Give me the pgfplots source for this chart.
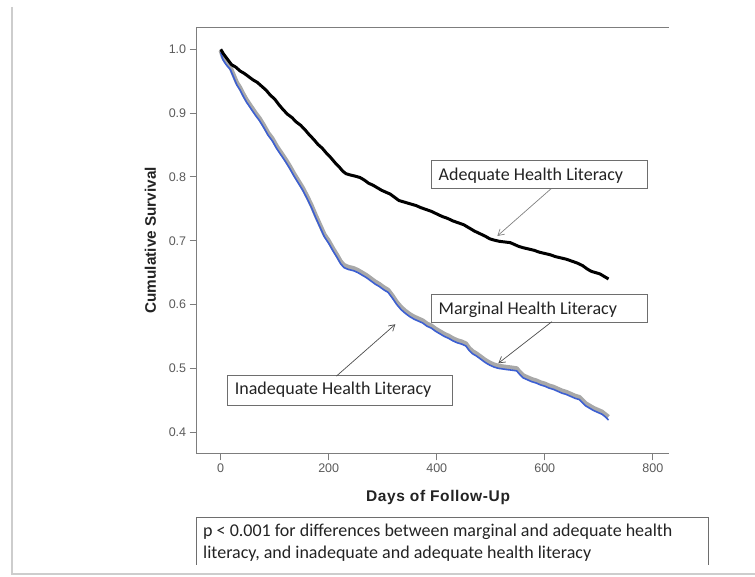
\documentclass[border=0pt]{standalone}
\usepackage{fontspec}
\setmainfont{Liberation Sans}
\newfontfamily\calibri{Carlito}
\usepackage{pgfplots}
\usepackage{pgfplotstable}
\pgfplotsset{compat=1.18}
\usetikzlibrary{arrows.meta}

\definecolor{axisgray}{RGB}{125,125,125}
\definecolor{ticktext}{RGB}{90,90,90}
\definecolor{marggray}{RGB}{168,168,168}
\definecolor{inadblue}{RGB}{60,95,210}
\definecolor{boxgray}{RGB}{110,110,110}
\definecolor{framegray}{RGB}{205,205,205}
\definecolor{txt}{RGB}{35,35,35}

% Adequate health literacy (black curve)
\pgfplotstableread{
day surv
0   1.000
5   0.993
12  0.985
20  0.976
28  0.972
36  0.966
44  0.962
52  0.957
60  0.952
68  0.948
76  0.942
84  0.936
92  0.928
100 0.922
108 0.913
116 0.905
124 0.898
132 0.893
140 0.886
148 0.881
156 0.874
164 0.866
172 0.859
180 0.851
188 0.845
196 0.837
204 0.830
212 0.822
220 0.815
226 0.809
232 0.805
240 0.803
250 0.801
258 0.799
266 0.795
274 0.790
282 0.787
290 0.783
298 0.779
306 0.776
314 0.773
322 0.768
330 0.763
338 0.761
346 0.759
354 0.757
362 0.755
370 0.752
380 0.749
390 0.746
400 0.742
410 0.738
420 0.735
430 0.731
440 0.728
450 0.725
460 0.720
470 0.715
480 0.711
490 0.707
498 0.703
506 0.701
516 0.699
526 0.698
536 0.697
544 0.694
552 0.691
560 0.689
570 0.687
580 0.685
590 0.682
600 0.680
610 0.678
620 0.675
630 0.673
640 0.671
650 0.668
660 0.665
670 0.661
678 0.656
686 0.652
694 0.650
702 0.648
710 0.644
718 0.640
}\adequate

% Marginal (grey) and inadequate (blue) health literacy
\pgfplotstableread{
day marg  inad
0   0.998 0.995
4   0.988 0.984
10  0.980 0.976
18  0.972 0.968
24  0.960 0.956
30  0.948 0.944
36  0.940 0.936
42  0.930 0.926
48  0.921 0.917
56  0.911 0.907
64  0.901 0.897
72  0.892 0.888
80  0.881 0.877
88  0.869 0.865
96  0.860 0.856
104 0.848 0.844
112 0.838 0.834
120 0.828 0.824
128 0.817 0.813
136 0.805 0.801
144 0.794 0.790
152 0.783 0.779
160 0.770 0.766
168 0.756 0.752
176 0.740 0.736
184 0.725 0.721
192 0.710 0.706
200 0.700 0.696
208 0.688 0.684
216 0.677 0.673
222 0.668 0.664
228 0.662 0.658
236 0.659 0.655
246 0.657 0.653
254 0.654 0.650
262 0.650 0.646
270 0.646 0.642
278 0.641 0.637
286 0.636 0.632
294 0.632 0.628
302 0.627 0.623
310 0.623 0.619
318 0.614 0.610
326 0.604 0.600
334 0.596 0.592
342 0.590 0.586
350 0.585 0.581
358 0.581 0.577
366 0.578 0.574
374 0.575 0.571
382 0.570 0.566
390 0.567 0.563
398 0.562 0.558
406 0.558 0.554
414 0.554 0.550
422 0.551 0.547
430 0.547 0.543
438 0.544 0.540
446 0.542 0.538
454 0.539 0.535
460 0.532 0.528
466 0.527 0.523
474 0.523 0.519
482 0.518 0.514
490 0.513 0.509
498 0.509 0.505
506 0.506 0.502
514 0.504 0.500
522 0.503 0.499
530 0.502 0.498
540 0.501 0.497
548 0.500 0.496
554 0.494 0.490
560 0.489 0.485
568 0.486 0.482
576 0.483 0.479
584 0.481 0.477
592 0.478 0.474
600 0.476 0.472
608 0.473 0.469
616 0.471 0.467
624 0.468 0.464
632 0.465 0.461
640 0.463 0.459
648 0.460 0.456
656 0.457 0.453
664 0.455 0.451
670 0.450 0.446
676 0.445 0.441
682 0.442 0.438
690 0.438 0.434
698 0.435 0.431
706 0.432 0.428
712 0.428 0.424
718 0.424 0.419
}\lowgroups

\begin{document}
\begin{tikzpicture}[x=1pt,y=1pt]
\path[use as bounding box] (0pt,0pt) rectangle (755pt,577pt);
\draw[framegray,line width=1.5pt] (12pt,570pt) -- (12pt,3pt) -- (755pt,3pt);

\begin{axis}[
  at={(196.7pt,123.7pt)}, anchor=south west,
  scale only axis, width=472.3pt, height=426pt,
  xmin=-44.4, xmax=830, ymin=0.3668, ymax=1.0345,
  xtick={0,200,400,600,800},
  ytick={0.4,0.5,0.6,0.7,0.8,0.9,1.0},
  yticklabel={\pgfmathprintnumber[fixed,fixed zerofill,precision=1]{\tick}},
  /pgf/number format/assume math mode=true,
  tick align=outside, xtick pos=bottom, ytick pos=left,
  major tick length=7pt,
  tick style={axisgray,line width=1pt},
  tick label style={font=\fontsize{12.5}{14}\selectfont,text=ticktext},
  axis line style={draw=none},
  clip=false,
  xlabel={Days of Follow-Up},
  ylabel={Cumulative Survival},
  every axis x label/.style={at={(axis description cs:0.511,-0.112)},anchor=base,
    font=\bfseries\fontsize{15.5}{18}\selectfont\addfontfeature{LetterSpace=4},text=txt},
  every axis y label/.style={at={(axis description cs:-0.0862,0.5)},anchor=base,rotate=90,
    font=\bfseries\fontsize{15.3}{18}\selectfont,text=txt},
]
\draw[axisgray,line width=1.3pt] (rel axis cs:0,1) -- (rel axis cs:0,0) -- (rel axis cs:1,0);
\draw[axisgray,line width=1.3pt] (rel axis cs:0,1) -- (rel axis cs:1,1);

\addplot[marggray, line width=4.2pt, line join=round] table[x=day,y=marg]{\lowgroups};
\addplot[inadblue, line width=1.6pt, line join=round] table[x=day,y=inad]{\lowgroups};
\addplot[black, line width=3pt, line join=round] table[x=day,y=surv]{\adequate};

% annotation boxes and pointers
\draw[boxgray,line width=0.8pt,fill=white] (axis cs:389.4,0.8265) rectangle (axis cs:789.4,0.7826);
\node[anchor=base west,inner sep=0,font=\calibri\fontsize{18}{20}\selectfont,text=txt]
  at (axis cs:403.3,0.7951) {Adequate Health Literacy};
\draw[gray,line width=0.7pt,-{Straight Barb[length=6pt,width=7pt]}]
  (axis cs:611.7,0.7815) -- (axis cs:512.2,0.7074);

\draw[boxgray,line width=0.8pt,fill=white] (axis cs:389.4,0.6160) rectangle (axis cs:789.4,0.5726);
\node[anchor=base west,inner sep=0,font=\calibri\fontsize{18}{20}\selectfont,text=txt]
  at (axis cs:403.3,0.5851) {Marginal Health Literacy};
\draw[black!70,line width=0.7pt,-{Straight Barb[length=6pt,width=7pt]}]
  (axis cs:613,0.573) -- (axis cs:514,0.5078);

\draw[boxgray,line width=0.8pt,fill=white] (axis cs:12.2,0.4894) rectangle (axis cs:428.3,0.4424);
\node[anchor=base west,inner sep=0,font=\calibri\fontsize{18}{20}\selectfont,text=txt]
  at (axis cs:25.9,0.4582) {Inadequate Health Literacy};
\draw[black!70,line width=0.7pt,-{Straight Barb[length=6pt,width=7pt]}]
  (axis cs:214.3,0.4878) -- (axis cs:323.5,0.5691);
\end{axis}

\draw[boxgray,line width=0.8pt] (196.5pt,12pt) -- (196.5pt,60pt) -- (708pt,60pt) -- (708pt,12pt);
\node[anchor=base west,inner sep=0,font=\calibri\fontsize{18}{20}\selectfont,text=txt]
  at (203pt,40pt) {p < 0.001 for differences between marginal and adequate health};
\node[anchor=base west,inner sep=0,font=\calibri\fontsize{18}{20}\selectfont,text=txt]
  at (203pt,18pt) {literacy, and inadequate and adequate health literacy};
\end{tikzpicture}
\end{document}
